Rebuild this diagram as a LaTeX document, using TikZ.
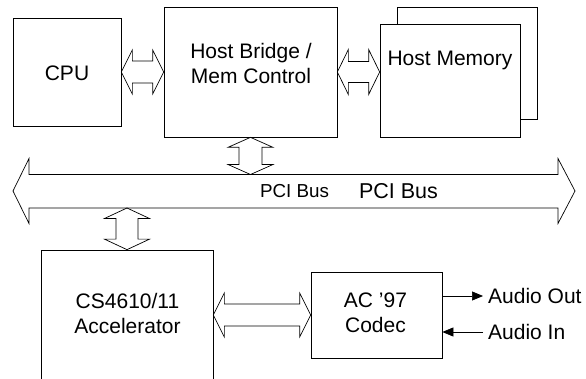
\documentclass[tikz,border=0pt]{standalone}
\usepackage{fontspec}
\setmainfont{Liberation Sans}
\usetikzlibrary{calc,arrows.meta}
\newcommand\hbarrow[5]{\draw[blk] let \p1=(#1), \p2=(#2) in (\x1,\y1) -- (\x1+#5,\y1+#4) -- (\x1+#5,\y1+#3) -- (\x2-#5,\y1+#3) -- (\x2-#5,\y1+#4) -- (\x2,\y1) -- (\x2-#5,\y1-#4) -- (\x2-#5,\y1-#3) -- (\x1+#5,\y1-#3) -- (\x1+#5,\y1-#4) -- cycle;}
\newcommand\vbarrow[5]{\draw[blk] let \p1=(#1), \p2=(#2) in (\x1,\y1) -- (\x1+#4,\y1-#5) -- (\x1+#3,\y1-#5) -- (\x1+#3,\y2+#5) -- (\x1+#4,\y2+#5) -- (\x1,\y2) -- (\x1-#4,\y2+#5) -- (\x1-#3,\y2+#5) -- (\x1-#3,\y1-#5) -- (\x1-#4,\y1-#5) -- cycle;}
\begin{document}
\begin{tikzpicture}[x=1pt,y=-1pt,
  box/.style={draw, line width=0.7pt, inner sep=0pt, fill=white},
  blk/.style={draw, line width=0.7pt, line join=miter},
  lbl/.style={align=center, inner sep=0pt, font=\fontsize{21}{25}\selectfont},
  sig/.style={line width=0.7pt, -{Triangle[length=11pt,width=9pt]}}]
\clip (0,0) rectangle (586,379);
\fill[white] (0,0) rectangle (586,379);
% boxes
\node[box, minimum width=108pt, minimum height=108pt] (cpu) at (67,72) {};
\node[box, minimum width=173pt, minimum height=130pt] (hb) at (250.5,72) {};
\node[box, minimum width=140pt, minimum height=112pt] (hmback) at (467,63) {};
\node[box, minimum width=140pt, minimum height=113pt] (hm) at (450,80.5) {};
\node[box, minimum width=172pt, minimum height=150pt] (cs) at (127,325) {};
\node[box, minimum width=131pt, minimum height=86pt] (ac) at (376.5,315) {};
% labels
\node[lbl] (cpul) at (67,73) {CPU};
\node[lbl] (hbl) at (251,63) {Host Bridge /\\Mem Control};
\node[lbl] (hml) at (450,60) {Host Memory};
\node[lbl] (csl) at (127.5,313) {CS4610/11\\Accelerator};
\node[lbl] (acl) at (375.5,313) {AC '97\\Codec};
% PCI bus
\coordinate (busL) at (13,191);
\coordinate (busR) at (575,191);
\coordinate (bustop) at (0,174.5);
\coordinate (busbot) at (0,208);
\draw[blk] (busL) -- (29,158.5) -- (29,174.5) -- (558,174.5) -- (558,158.5) -- (busR) -- (558,223.5) -- (558,208) -- (29,208) -- (29,223.5) -- cycle;
\node[lbl, font=\fontsize{18.8}{22}\selectfont] (pci1) at (294.5,191) {PCI Bus};
\node[lbl, font=\fontsize{21.5}{25}\selectfont] (pci2) at (398.5,191) {PCI Bus};
% block arrows
\hbarrow{cpu.east}{hb.west}{11pt}{22pt}{11pt}
\hbarrow{hb.east |- cpu.east}{hm.west |- cpu.east}{10.5pt}{22.5pt}{11pt}
\vbarrow{hb.south}{hb.south |- bustop}{11.5pt}{22.5pt}{10pt}
\vbarrow{cs.north |- busbot}{cs.north}{11pt}{22.5pt}{10.5pt}
\hbarrow{cs.east |- ac.west}{ac.west}{11pt}{22pt}{11pt}
% audio
\node[lbl, anchor=west, inner sep=5pt] (aout) at (483,296) {Audio Out};
\node[lbl, anchor=west, inner sep=5pt] (ain) at (483,332) {Audio In};
\draw[sig] (ac.east |- aout.west) -- (aout.west);
\draw[sig] (ain.west) -- (ac.east |- ain.west);
\end{tikzpicture}
\end{document}
